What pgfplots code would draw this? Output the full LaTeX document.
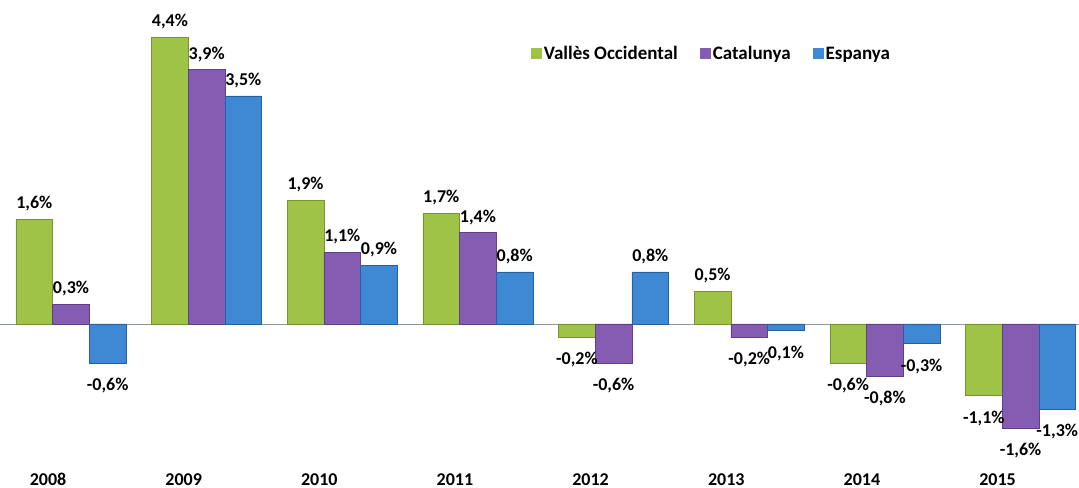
\documentclass[border=0pt]{standalone}
\usepackage{pgfplots}
\pgfplotsset{compat=1.18}
\usepackage{fontspec}
\setmainfont{Carlito}
\definecolor{gmain}{RGB}{158,195,70}
\definecolor{gedge}{RGB}{118,150,45}
\definecolor{pmain}{RGB}{132,92,178}
\definecolor{pedge}{RGB}{95,64,135}
\definecolor{bmain}{RGB}{62,136,212}
\definecolor{bedge}{RGB}{40,95,160}
\definecolor{zline}{RGB}{140,150,165}
\begin{document}
\begin{tikzpicture}
\begin{axis}[
  name=ax,
  at={(0,0)}, anchor=south west,
  scale only axis,
  width=1079pt, height=488pt,
  xmin=-0.5234, xmax=7.431,
  ymin=-2.515, ymax=4.969,
  ybar=0pt, bar width=36.7pt,
  clip=false,
  axis line style={draw=none},
  tick style={draw=none},
  ytick=\empty,
  xtick={0,1,2,3,4,5,6,7},
  xticklabels={2008,2009,2010,2011,2012,2013,2014,2015},
  xticklabel style={anchor=center, yshift=13pt, xshift=-23pt, font=\fontsize{18}{20}\selectfont\bfseries},
  extra y ticks={0}, extra y tick labels={},
  extra y tick style={grid=major, major grid style={zline, line width=0.8pt}},
  point meta=explicit symbolic,
  nodes near coords,
  visualization depends on={value \thisrow{a} \as \anc},
  visualization depends on={value \thisrow{s} \as \ys},
  every node near coord/.append style={font=\fontsize{18}{20}\selectfont\bfseries, inner sep=3pt, black, anchor=\anc, yshift=\ys pt},
  legend style={at={(rel axis cs:0.489,0.89)}, anchor=west, draw=none, fill=none,
    font=\fontsize{19}{21}\selectfont\bfseries, legend columns=3,
    /tikz/every even column/.append style={column sep=20pt}},
  legend image code/.code={\path[#1, draw=none] (0pt,-5.5pt) rectangle (11pt,5.5pt);},
]
\addplot[draw=gedge, line width=0.5pt, fill=gmain]
 table[x=x, y=y, meta=l] {
x y l a s
0 1.6 1,6\% south 5
1 4.4 4,4\% south 5
2 1.9 1,9\% south 5
3 1.7 1,7\% south 5
4 -0.2 -0,2\% north -12
5 0.5 0,5\% south 5
6 -0.6 -0,6\% north -12
7 -1.1 -1,1\% north -12
};
\addplot[draw=pedge, line width=0.5pt, fill=pmain]
 table[x=x, y=y, meta=l] {
x y l a s
0 0.3 0,3\% south 5
1 3.9 3,9\% south 5
2 1.1 1,1\% south 5
3 1.4 1,4\% south 5
4 -0.6 -0,6\% north -12
5 -0.2 -0,2\% north -12
6 -0.8 -0,8\% north -12
7 -1.6 -1,6\% north -12
};
\addplot[draw=bedge, line width=0.5pt, fill=bmain]
 table[x=x, y=y, meta=l] {
x y l a s
0 -0.6 -0,6\% north -12
1 3.5 3,5\% south 5
2 0.9 0,9\% south 5
3 0.8 0,8\% south 5
4 0.8 0,8\% south 5
5 -0.1 0,1\% north -12
6 -0.3 -0,3\% north -12
7 -1.3 -1,3\% north -12
};
\legend{Vallès Occidental, Catalunya, Espanya}
\end{axis}
\pgfresetboundingbox
\useasboundingbox (ax.south west) rectangle (ax.north east);
\end{tikzpicture}
\end{document}
